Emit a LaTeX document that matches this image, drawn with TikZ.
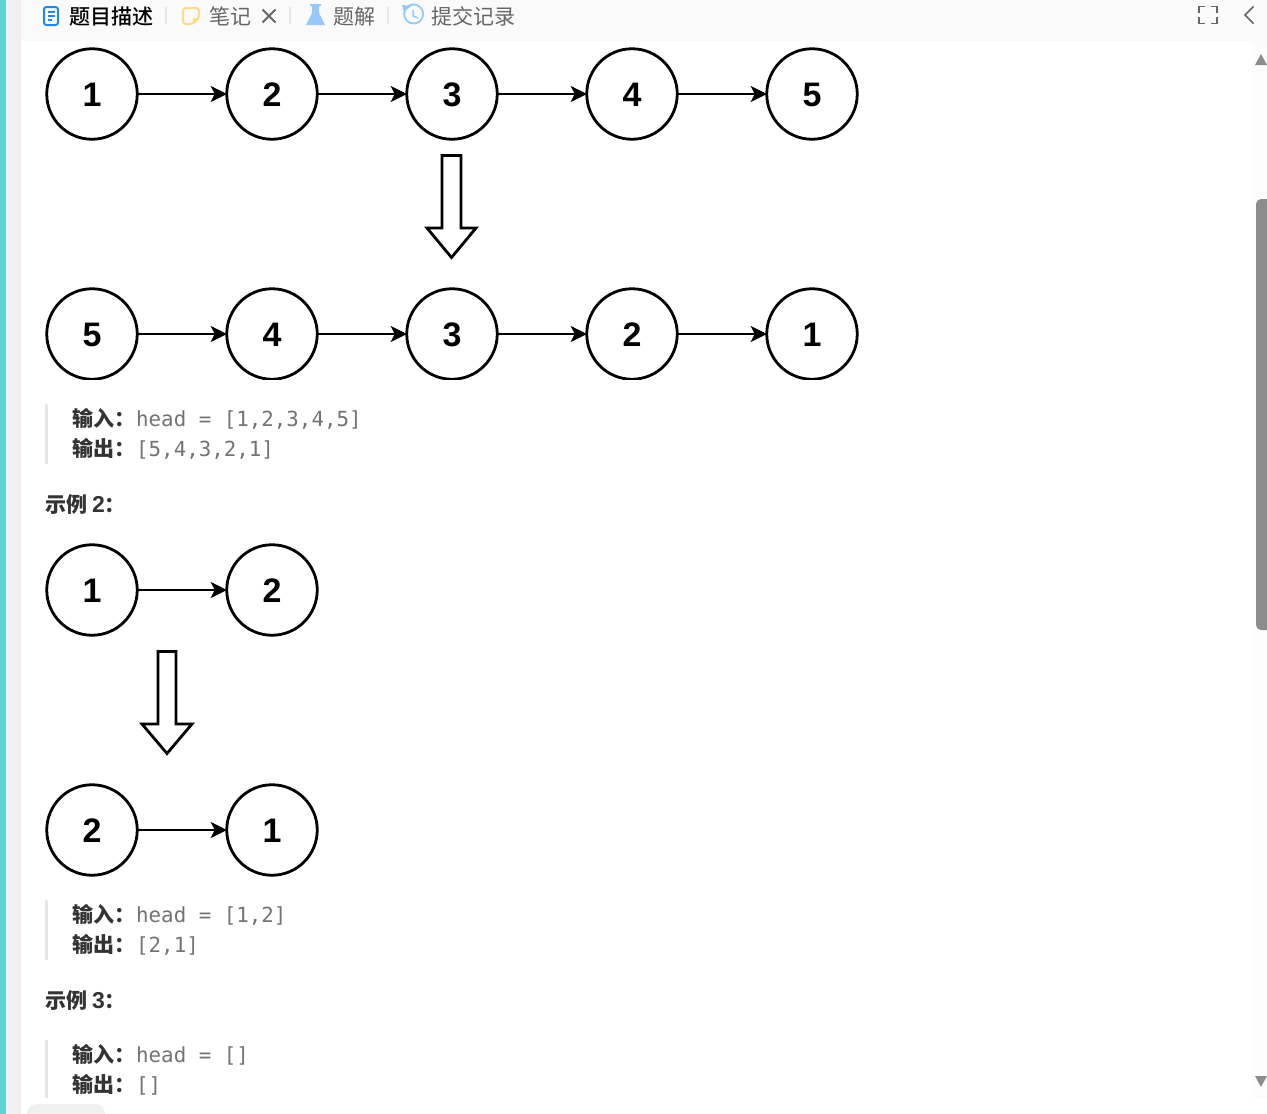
\documentclass[tikz,border=0pt]{standalone}
\usepackage{fontspec}
\setmainfont{Liberation Sans}
\newfontfamily\cjk{Noto Sans CJK SC}
\newfontfamily\cjkm{Noto Sans CJK SC Medium}
\newfontfamily\codefont{DejaVu Sans Mono}
\usetikzlibrary{arrows.meta}
\definecolor{teal1}{HTML}{5FD3D3}
\definecolor{side}{HTML}{F0F0F0}
\definecolor{band}{HTML}{FAFAFA}
\definecolor{track}{HTML}{FCFCFC}
\definecolor{thumb}{HTML}{8C8C8C}
\definecolor{tabgray}{HTML}{666666}
\definecolor{sepc}{HTML}{E6E6E6}
\definecolor{codec}{HTML}{737373}
\definecolor{labelc}{HTML}{333333}
\definecolor{docblue}{HTML}{1E88F0}
\definecolor{noteyel}{HTML}{FFD88A}
\definecolor{flask}{HTML}{96C8FA}
\tikzset{
 x=1pt,y=-1pt,
 listnode/.style={circle,draw=black,line width=2.8pt,minimum size=90.5pt,inner sep=0pt,outer sep=0pt,
   font=\fontsize{34}{34}\selectfont\bfseries,fill=white,text height=25.5pt,text depth=0pt},
 link/.style={draw=black,line width=2.8pt,-{Stealth[length=16pt,width=16pt,inset=4pt]}},
 blockarrow/.style={draw=black,line width=2.8pt,fill=white,line join=miter},
 tabtext/.style={inner sep=0pt,anchor=base west,text=tabgray,font=\cjk\fontsize{21}{21}\selectfont},
 tabactive/.style={tabtext,text=black,font=\cjkm\fontsize{21}{21}\selectfont},
 lbl/.style={inner sep=0pt,anchor=base west,text=labelc,font=\cjk\bfseries\fontsize{21}{21}\selectfont},
 code/.style={inner sep=0pt,anchor=base west,text=codec,font=\codefont\fontsize{20.8}{20.8}\selectfont},
 quotebar/.style={fill=sepc,draw=none},
 tabsep/.style={draw=sepc,line width=1.5pt},
}
\newcommand{\exnum}[1]{{\fontspec{Liberation Sans}\bfseries\fontsize{23}{23}\selectfont #1}}
\begin{document}
\begin{tikzpicture}
\useasboundingbox (0,0) rectangle (1267,1114);
% page chrome
\fill[white] (0,0) rectangle (1267,1114);
\fill[side] (6,0) rectangle (21,1114);
\fill[teal1] (0,0) rectangle (6,1114);
\fill[band] (21,0) rectangle (1267,41);
\fill[track] (1252,41) rectangle (1267,1098);
\fill[thumb,rounded corners=5pt] (1256,199) rectangle (1275,630);
\fill[thumb] (1261,54) -- (1267,65) -- (1255,65) -- cycle;
\fill[thumb] (1255,1076) -- (1267,1076) -- (1261,1087) -- cycle;
\fill[side,rounded corners=10pt] (27,1104) rectangle (105,1130);
% tabs
\draw[docblue,line width=2pt,rounded corners=2.5pt] (44,7) rectangle (58,25);
\draw[docblue,line width=1.6pt] (47.5,12) -- (54.5,12) (47.5,16) -- (54.5,16) (47.5,20) -- (51.5,20);
\node[tabactive] (t1) at (69,24) {题目描述};
\draw[tabsep] (166,7) -- (166,24);
\draw[noteyel,line width=2pt,rounded corners=3pt] (183,8) -- (199,8) -- (199,18) -- (193,24) -- (183,24) -- cycle;
\fill[noteyel] (199,18) -- (193,24) -- (193,18) -- cycle;
\node[tabtext] (t2) at (209,24) {笔记};
\draw[tabgray,line width=1.8pt] (262.5,9.5) -- (275.5,22.5) (275.5,9.5) -- (262.5,22.5);
\draw[tabsep] (290,7) -- (290,24);
\fill[flask] (310,4) -- (321,4) -- (321,6) -- (319,6) -- (319,13) -- (325,25) -- (306,25) -- (312,13) -- (312,6) -- (310,6) -- cycle;
\node[tabtext] (t3) at (333,24) {题解};
\draw[tabsep] (388,7) -- (388,24);
\draw[flask,line width=1.8pt] (405,10) arc[start angle=205,end angle=-130,radius=9.5];
\draw[flask,line width=1.5pt] (413,10) -- (413,16) -- (418,18);
\fill[flask] (402,5) -- (411,6) -- (404,12) -- cycle;
\node[tabtext] (t4) at (431,24) {提交记录};
% fullscreen and back icons
\draw[tabgray,line width=1.8pt] (1199,13) -- (1199,6.5) -- (1205,6.5)
  (1211,6.5) -- (1217,6.5) -- (1217,13)
  (1199,17) -- (1199,23.5) -- (1205,23.5)
  (1211,23.5) -- (1217,23.5) -- (1217,17);
\draw[tabgray,line width=1.6pt] (1253.5,6.5) -- (1245,15) -- (1253.5,23.5);
% example 1 top row
\node[listnode] (a1) at (92,94) {1};
\node[listnode] (a2) at (272,94) {2};
\node[listnode] (a3) at (452,94) {3};
\node[listnode] (a4) at (632,94) {4};
\node[listnode] (a5) at (812,94) {5};
\draw[link] (a1) -- (a2);
\draw[link] (a2) -- (a3);
\draw[link] (a3) -- (a4);
\draw[link] (a4) -- (a5);
\draw[blockarrow] (442,155.5) -- (461,155.5) -- (461,228) -- (476,228) -- (451.5,257.5) -- (427,228) -- (442,228) -- cycle;
% example 1 bottom row
\node[listnode] (b5) at (92,334) {5};
\node[listnode] (b4) at (272,334) {4};
\node[listnode] (b3) at (452,334) {3};
\node[listnode] (b2) at (632,334) {2};
\node[listnode] (b1) at (812,334) {1};
\draw[link] (b5) -- (b4);
\draw[link] (b4) -- (b3);
\draw[link] (b3) -- (b2);
\draw[link] (b2) -- (b1);
\fill[white] (40,379.5) rectangle (870,384);
\fill[quotebar] (45,404) rectangle (48,464);
\node[lbl] (l1) at (72,426) {输入：};
\node[code] (c1) at (136,426) {head = [1,2,3,4,5]};
\node[lbl] (l2) at (72,456) {输出：};
\node[code] (c2) at (136,456) {[5,4,3,2,1]};
\node[lbl] (h2) at (45,512) {示例 \exnum{2}：};
% example 2
\node[listnode] (d1) at (92,590) {1};
\node[listnode] (d2) at (272,590) {2};
\draw[link] (d1) -- (d2);
\draw[blockarrow] (158,651.5) -- (176,651.5) -- (176,724) -- (192,724) -- (167,753.5) -- (142,724) -- (158,724) -- cycle;
\node[listnode] (e2) at (92,830) {2};
\node[listnode] (e1) at (272,830) {1};
\draw[link] (e2) -- (e1);
\fill[quotebar] (45,900) rectangle (48,960);
\node[lbl] (l3) at (72,922) {输入：};
\node[code] (c3) at (136,922) {head = [1,2]};
\node[lbl] (l4) at (72,952) {输出：};
\node[code] (c4) at (136,952) {[2,1]};
\node[lbl] (h3) at (45,1008) {示例 \exnum{3}：};
% example 3
\fill[quotebar] (45,1040) rectangle (48,1098);
\node[lbl] (l5) at (72,1062) {输入：};
\node[code] (c5) at (136,1062) {head = []};
\node[lbl] (l6) at (72,1092) {输出：};
\node[code] (c6) at (136,1092) {[]};
\end{tikzpicture}
\end{document}
